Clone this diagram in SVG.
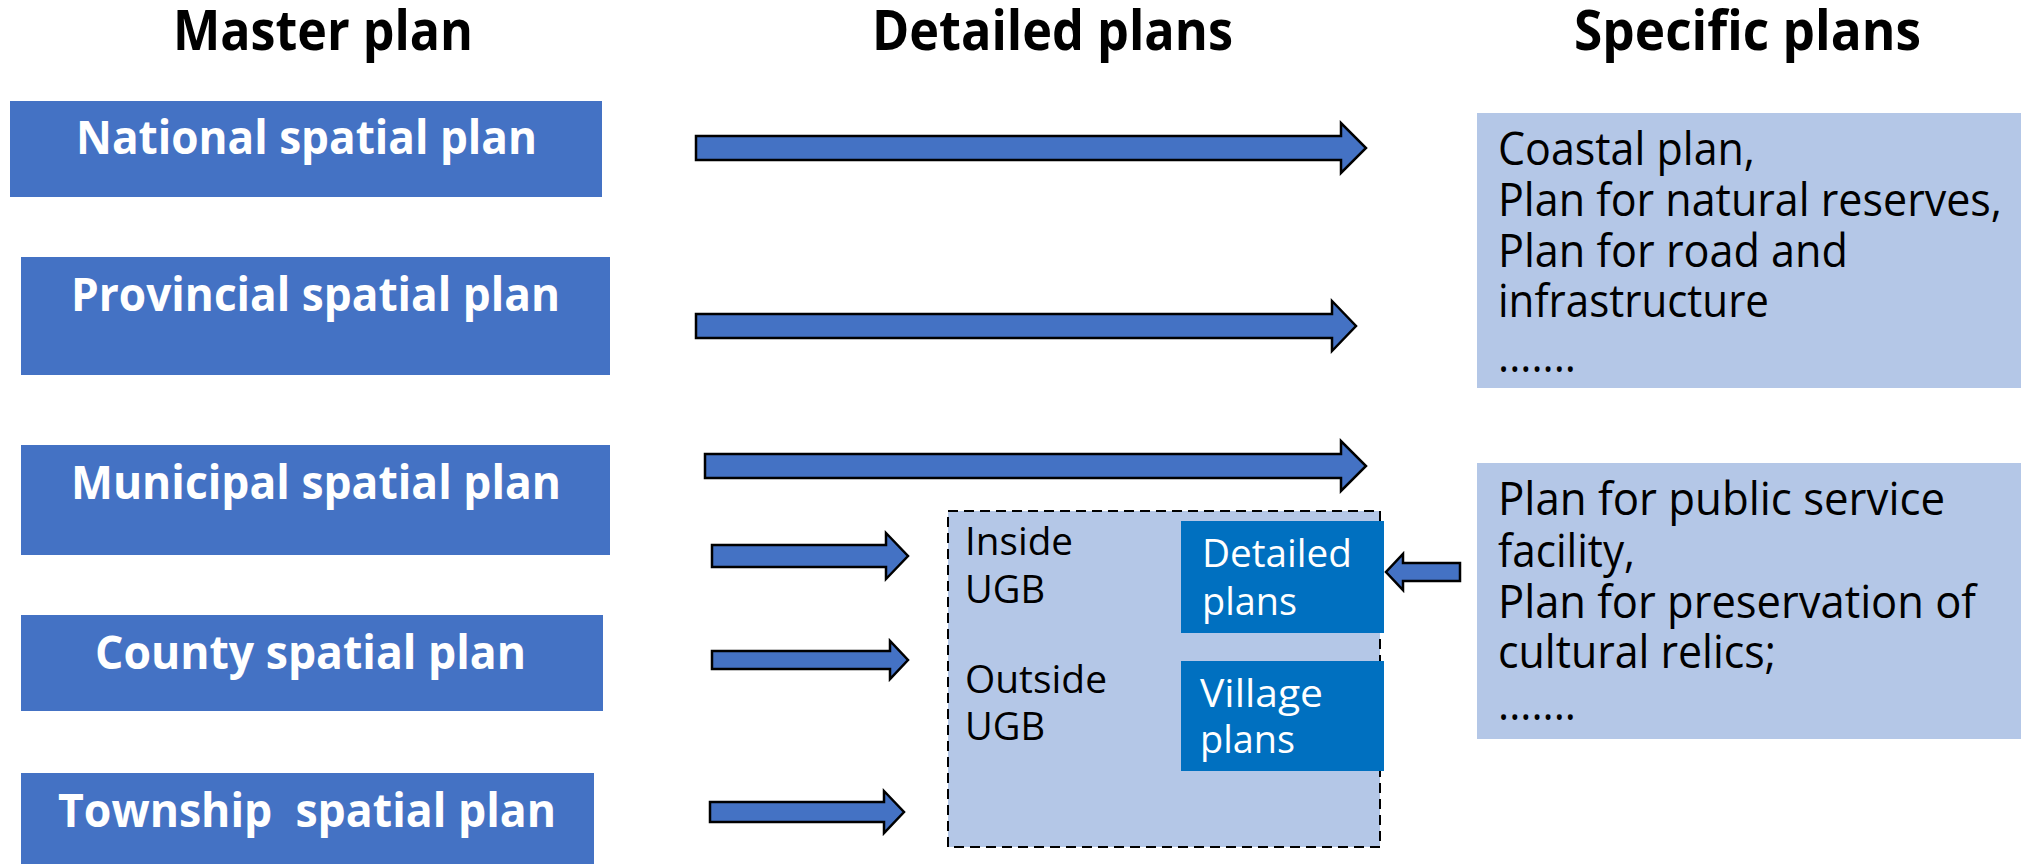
<svg xmlns="http://www.w3.org/2000/svg" width="2021" height="864" viewBox="0 0 2021 864">
  <style>
    .head { font-family: "Open Sans", "Noto Sans", sans-serif; font-weight: 700; font-size: 55px; fill: #000; }
    .lvl { fill: #4472C4; }
    .lvl-t { font-family: "Open Sans", "Noto Sans", sans-serif; font-weight: 700; font-size: 47px; fill: #fff; }
    .pale { fill: #B4C7E7; }
    .zone { fill: #B4C7E7; stroke: #000; stroke-width: 2; stroke-dasharray: 10 6; }
    .dark { fill: #0070C0; }
    .body { font-family: "Open Sans", "Noto Sans", sans-serif; font-size: 39px; fill: #000; }
    .body-w { font-family: "Open Sans", "Noto Sans", sans-serif; font-size: 39px; fill: #fff; }
    .spec { font-family: "Open Sans", "Noto Sans", sans-serif; font-size: 46px; fill: #000; }
    .arrow { fill: #4472C4; stroke: #000; stroke-width: 2.5; stroke-linejoin: miter; }
  </style>

  <rect width="2021" height="864" fill="#fff"/>

  <!-- column headings -->
  <g id="headings">
    <text class="head" x="173" y="50" textLength="300" lengthAdjust="spacingAndGlyphs">Master plan</text>
    <text class="head" x="872" y="50" textLength="361" lengthAdjust="spacingAndGlyphs">Detailed plans</text>
    <text class="head" x="1574" y="50" textLength="347" lengthAdjust="spacingAndGlyphs">Specific plans</text>
  </g>

  <!-- master plan levels -->
  <g id="national">
    <rect class="lvl" x="10" y="101" width="592" height="96"/>
    <text class="lvl-t" x="76" y="154" textLength="461" lengthAdjust="spacingAndGlyphs">National spatial plan</text>
  </g>
  <g id="provincial">
    <rect class="lvl" x="21" y="257" width="589" height="118"/>
    <text class="lvl-t" x="71" y="311" textLength="489" lengthAdjust="spacingAndGlyphs">Provincial spatial plan</text>
  </g>
  <g id="municipal">
    <rect class="lvl" x="21" y="445" width="589" height="110"/>
    <text class="lvl-t" x="71" y="499" textLength="490" lengthAdjust="spacingAndGlyphs">Municipal spatial plan</text>
  </g>
  <g id="county">
    <rect class="lvl" x="21" y="615" width="582" height="96"/>
    <text class="lvl-t" x="95" y="669" textLength="431" lengthAdjust="spacingAndGlyphs">County spatial plan</text>
  </g>
  <g id="township">
    <rect class="lvl" x="21" y="773" width="573" height="91"/>
    <text class="lvl-t" x="58" y="827" textLength="498" lengthAdjust="spacingAndGlyphs">Township&#160; spatial plan</text>
  </g>

  <!-- detailed plans zone -->
  <g id="ugb-zone">
    <rect class="zone" x="948" y="511" width="432" height="336"/>
    <text class="body" x="965" y="555" textLength="108" lengthAdjust="spacingAndGlyphs">Inside</text>
    <text class="body" x="965" y="603" textLength="80" lengthAdjust="spacingAndGlyphs">UGB</text>
    <text class="body" x="965" y="693" textLength="142" lengthAdjust="spacingAndGlyphs">Outside</text>
    <text class="body" x="965" y="740" textLength="80" lengthAdjust="spacingAndGlyphs">UGB</text>
  </g>
  <g id="detailed-plans">
    <rect class="dark" x="1181" y="521" width="203" height="112"/>
    <text class="body-w" x="1202" y="567" textLength="150" lengthAdjust="spacingAndGlyphs">Detailed</text>
    <text class="body-w" x="1202" y="615" textLength="95" lengthAdjust="spacingAndGlyphs">plans</text>
  </g>
  <g id="village-plans">
    <rect class="dark" x="1181" y="661" width="203" height="110"/>
    <text class="body-w" x="1200" y="707" textLength="123" lengthAdjust="spacingAndGlyphs">Village</text>
    <text class="body-w" x="1200" y="753" textLength="95" lengthAdjust="spacingAndGlyphs">plans</text>
  </g>

  <!-- specific plans -->
  <g id="specific-upper">
    <rect class="pale" x="1477" y="113" width="544" height="275"/>
    <text class="spec" x="1498" y="165" textLength="257" lengthAdjust="spacingAndGlyphs">Coastal plan,</text>
    <text class="spec" x="1498" y="216" textLength="504" lengthAdjust="spacingAndGlyphs">Plan for natural reserves,</text>
    <text class="spec" x="1498" y="267" textLength="350" lengthAdjust="spacingAndGlyphs">Plan for road and</text>
    <text class="spec" x="1498" y="317" textLength="271" lengthAdjust="spacingAndGlyphs">infrastructure</text>
    <text class="spec" x="1498" y="372" textLength="78" lengthAdjust="spacingAndGlyphs">.......</text>
  </g>
  <g id="specific-lower">
    <rect class="pale" x="1477" y="463" width="544" height="276"/>
    <text class="spec" x="1498" y="515" textLength="447" lengthAdjust="spacingAndGlyphs">Plan for public service</text>
    <text class="spec" x="1498" y="567" textLength="137" lengthAdjust="spacingAndGlyphs">facility,</text>
    <text class="spec" x="1498" y="618" textLength="478" lengthAdjust="spacingAndGlyphs">Plan for preservation of</text>
    <text class="spec" x="1498" y="668" textLength="278" lengthAdjust="spacingAndGlyphs">cultural relics;</text>
    <text class="spec" x="1498" y="720" textLength="78" lengthAdjust="spacingAndGlyphs">.......</text>
  </g>

  <!-- block arrows -->
  <g id="connectors">
    <path class="arrow" d="M696,136 H1341 V123 L1366,148 L1341,173 V160 H696 Z"/>
    <path class="arrow" d="M696,314 H1332 V301 L1356,326 L1332,351 V338 H696 Z"/>
    <path class="arrow" d="M705,454 H1341 V441 L1366,466 L1341,491 V478 H705 Z"/>
    <path class="arrow" d="M712,545 H886 V533 L908,556 L886,579 V567 H712 Z"/>
    <path class="arrow" d="M712,651 H890 V641 L908,660 L890,679 V669 H712 Z"/>
    <path class="arrow" d="M710,802 H884 V791 L904,812 L884,833 V822 H710 Z"/>
    <path class="arrow" d="M1460,563 H1403 V554 L1386,572 L1403,590 V581 H1460 Z"/>
  </g>
</svg>
